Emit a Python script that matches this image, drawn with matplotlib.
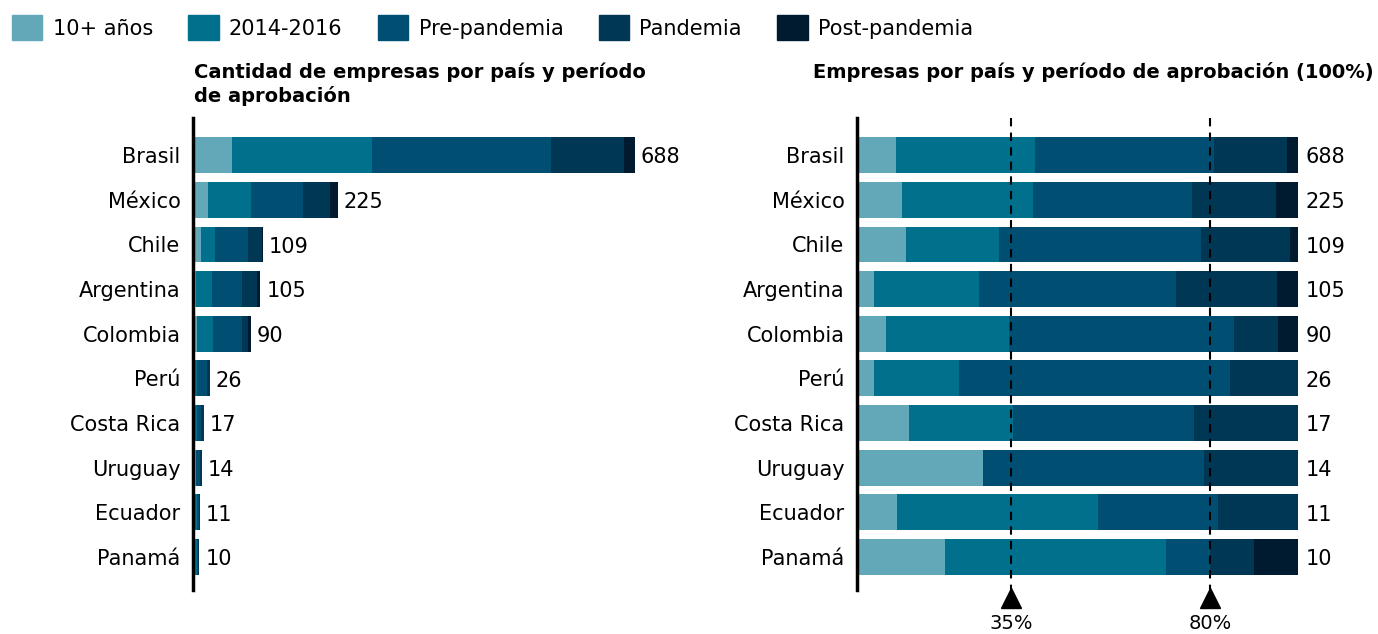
import numpy as np
import matplotlib
matplotlib.use('Agg')
from matplotlib import pyplot as plt
from matplotlib.patches import Patch

plt.rcParams['font.family'] = ['DejaVu Sans']

paises = ['Brasil', 'México', 'Chile', 'Argentina', 'Colombia',
          'Perú', 'Costa Rica', 'Uruguay', 'Ecuador', 'Panamá']
periodos = ['10+ años', '2014-2016', 'Pre-pandemia', 'Pandemia', 'Post-pandemia']
diez = [61, 23, 12, 4, 6, 1, 2, 4, 1, 2]
p2014 = [217, 67, 23, 25, 25, 5, 4, 0, 5, 5]
pre = [279, 81, 50, 47, 46, 16, 7, 7, 3, 1]
pand = [114, 43, 22, 24, 9, 4, 4, 3, 2, 1]
post = [17, 11, 2, 5, 4, 0, 0, 0, 0, 1]
marcas = [0.35, 0.80]
colores = ['#62A8B8', '#00708D', '#004F73', '#003755', '#001B30']

datos = np.array([diez, p2014, pre, pand, post], dtype=float)
totales = datos.sum(axis=0)
pct = datos / totales

W, H = 1378, 634
fig = plt.figure(figsize=(W / 100, H / 100), dpi=100)

top, bot = 118, 590
ax1 = fig.add_axes([193 / W, 1 - bot / H, (635 - 193) / W, (bot - top) / H])
ax2 = fig.add_axes([857 / W, 1 - bot / H, (1298 - 857) / W, (bot - top) / H])

y = np.arange(len(paises))
alto = 0.8

for ax, vals, xmax in [(ax1, datos, totales.max()), (ax2, pct, 1.0)]:
    izq = np.zeros(len(paises))
    for i in range(len(periodos)):
        ax.barh(y, vals[i], left=izq, height=alto, color=colores[i], linewidth=0)
        izq += vals[i]
    ax.set_xlim(0, xmax)
    ax.set_ylim(9.74, -0.83)
    for s in ['top', 'right', 'bottom']:
        ax.spines[s].set_visible(False)
    ax.spines['left'].set_linewidth(2.5)
    ax.spines['left'].set_color('black')
    ax.set_xticks([])
    ax.set_yticks(y)
    ax.set_yticklabels(paises, fontsize=15)
    ax.tick_params(axis='y', length=0, pad=9)

# etiquetas de totales
for i, t in enumerate(totales):
    ax1.text(t + 9, i + 0.05, '%d' % t, va='center', ha='left', fontsize=15)
    ax2.text(1.018, i + 0.05, '%d' % t, va='center', ha='left', fontsize=15)

# lineas de referencia
for m in marcas:
    ax2.plot([m, m], [-0.83, 9.74], color='black', lw=1.5, ls=(0, (4, 3)), clip_on=False)
    ax2.plot([m], [9.92], marker='^', color='black', markersize=14, clip_on=False)
    ax2.text(m, 10.5, '%d%%' % round(m * 100), ha='center', va='center', fontsize=14)

fig.text(194 / W, 1 - 62 / H, 'Cantidad de empresas por país y período\nde aprobación',
         fontsize=14, fontweight='bold', va='top', ha='left', linespacing=1.3)
fig.text(1374 / W, 1 - 62 / H, 'Empresas por país y período de aprobación (100%)',
         fontsize=14, fontweight='bold', va='top', ha='right')

handles = [Patch(color=c, label=p) for c, p in zip(colores, periodos)]
fig.legend(handles=handles, loc='upper left', bbox_to_anchor=(12 / W, 1 - 15 / H),
           ncol=5, frameon=False, fontsize=15, handlelength=1.45, handleheight=1.5,
           handletextpad=0.5, columnspacing=1.7, borderpad=0, borderaxespad=0)

fig.savefig('out.png', dpi=100)
